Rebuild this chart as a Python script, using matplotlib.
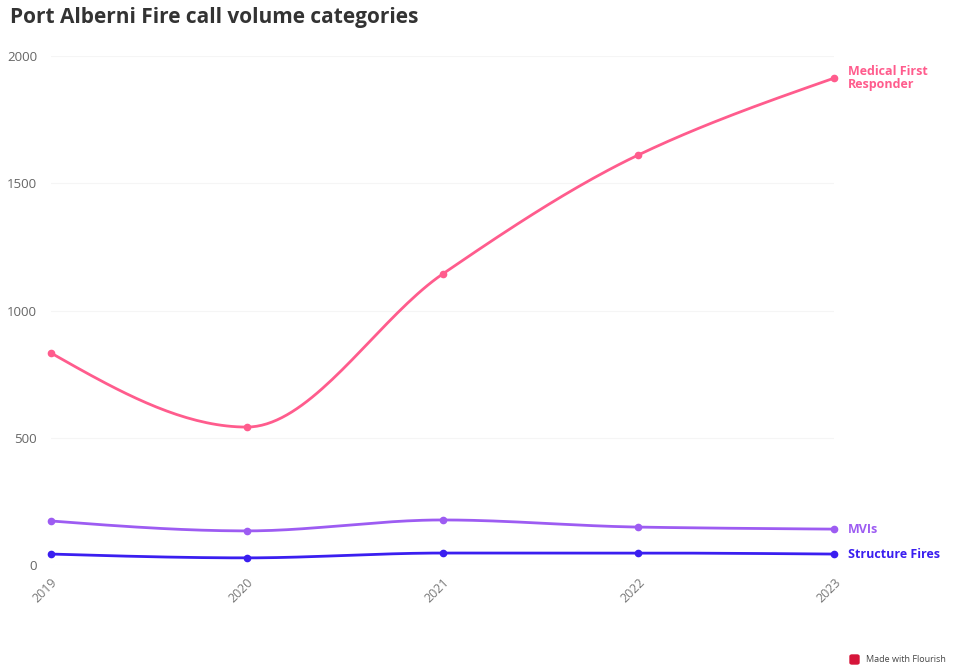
import numpy as np
import matplotlib.pyplot as plt
from matplotlib.patches import FancyBboxPatch

# call volumes per year
years = [2019, 2020, 2021, 2022, 2023]
medical = [833, 542, 1143, 1611, 1913]
mvis = [173, 134, 177, 149, 141]
structure = [43, 28, 47, 47, 43]

series = [
    ("Medical First\nResponder", medical, "#ff5c8d"),
    ("MVIs", mvis, "#9d5cf2"),
    ("Structure Fires", structure, "#3a1ef0"),
]
y_ticks = [0, 500, 1000, 1500, 2000]


def monotone(x, y, n=40):
    # monotone cubic (Fritsch-Carlson) interpolation, like d3 curveMonotoneX
    x = np.asarray(x, float)
    y = np.asarray(y, float)
    h = np.diff(x)
    d = np.diff(y) / h
    m = np.zeros_like(y)
    for i in range(1, len(y) - 1):
        if d[i - 1] * d[i] <= 0:
            m[i] = 0
        else:
            m[i] = (3 * (h[i - 1] + h[i])) / ((2 * h[i] + h[i - 1]) / d[i - 1] + (h[i] + 2 * h[i - 1]) / d[i])
    # end slopes as in d3
    m[0] = (3 * d[0] - m[1]) / 2
    m[-1] = (3 * d[-1] - m[-2]) / 2
    xs, ys = [], []
    for i in range(len(h)):
        t = np.linspace(0, 1, n)
        h00 = 2 * t**3 - 3 * t**2 + 1
        h10 = t**3 - 2 * t**2 + t
        h01 = -2 * t**3 + 3 * t**2
        h11 = t**3 - t**2
        xs.append(x[i] + t * h[i])
        ys.append(h00 * y[i] + h10 * h[i] * m[i] + h01 * y[i + 1] + h11 * h[i] * m[i + 1])
    return np.concatenate(xs), np.concatenate(ys)


plt.rcParams['font.family'] = ['Open Sans', 'DejaVu Sans']

W, H = 961, 670
fig = plt.figure(figsize=(W / 100, H / 100), dpi=100)
left, right, bottom, top = 51, 834, 565, 56
ax = fig.add_axes([left / W, 1 - bottom / H, (right - left) / W, (bottom - top) / H])

for name, vals, col in series:
    xs, ys = monotone(years, vals)
    ax.plot(xs, ys, color=col, lw=2.0, clip_on=False, zorder=3)
    ax.plot(years, vals, 'o', color=col, ms=4.5, clip_on=False, zorder=4)

ax.set_xlim(2019, 2023)
ax.set_ylim(0, 2000)
ax.set_yticks(y_ticks)
ax.set_xticks(years)
ax.set_xticklabels([str(y) for y in years], rotation=45, ha='right', va='top',
                   rotation_mode='anchor', color='#777777', fontsize=9)
ax.set_yticklabels([str(v) for v in y_ticks], color='#666666', fontsize=9.5)
ax.tick_params(axis='both', length=0)
ax.tick_params(axis='y', pad=10)
ax.tick_params(axis='x', pad=8)
ax.grid(axis='y', color='#f5f5f5', lw=0.8)
for s in ax.spines.values():
    s.set_visible(False)

# end labels next to the last points
ax.annotate("Medical First\nResponder", (2023, medical[-1]), xytext=(10, 0),
            textcoords='offset points', color="#ff5c8d", fontsize=9, fontweight='bold',
            va='center', ha='left', linespacing=0.95)
ax.annotate("MVIs", (2023, mvis[-1]), xytext=(10, 0), textcoords='offset points',
            color="#9d5cf2", fontsize=9, fontweight='bold', va='center', ha='left')
ax.annotate("Structure Fires", (2023, structure[-1]), xytext=(10, 0), textcoords='offset points',
            color="#3a1ef0", fontsize=9, fontweight='bold', va='center', ha='left')

fig.text(10 / W, 1 - 17 / H, "Port Alberni Fire call volume categories", fontsize=15,
         fontweight='bold', color='#333333', va='center', ha='left')

# footer credit
fig.patches.append(FancyBboxPatch((850 / W, 1 - 664 / H), 9 / W, 9 / H,
                                  boxstyle="round,pad=0,rounding_size=0.002",
                                  transform=fig.transFigure, color='#d6153a'))
fig.text(866 / W, 1 - 659 / H, "Made with Flourish", fontsize=6.5, color='#444444',
         va='center', ha='left')

fig.savefig('out.png', dpi=100, facecolor='white')
